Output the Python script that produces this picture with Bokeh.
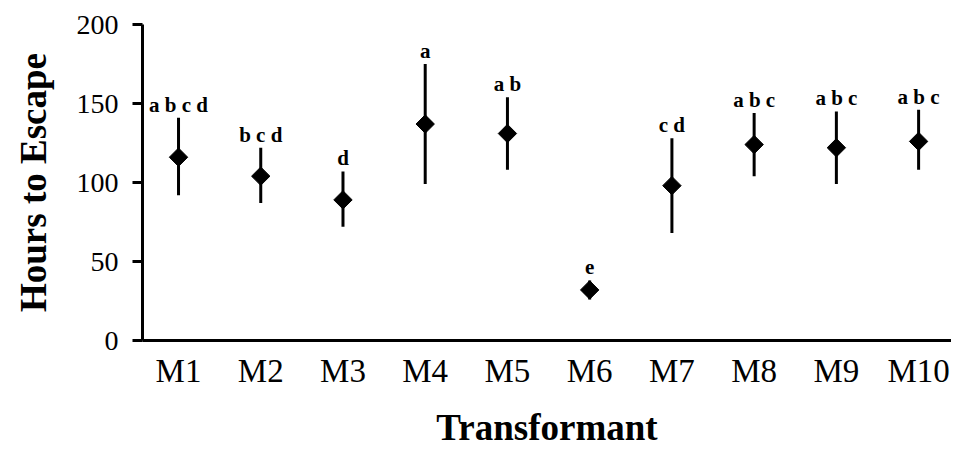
import math
from bokeh.plotting import figure
from bokeh.models import Range1d, FixedTicker, ColumnDataSource
from bokeh.embed import file_html
from bokeh.resources import INLINE
from bokeh.core.properties import value

# ---- data ----
transformants = ["M1", "M2", "M3", "M4", "M5", "M6", "M7", "M8", "M9", "M10"]
mean_hours = [116, 104, 89, 137, 131, 32, 98, 124, 122, 126]
upper_hours = [141, 122, 107, 175, 154, 38, 128, 144, 145, 146]
lower_hours = [92, 87, 72, 99, 108, 26, 68, 104, 99, 108]
group_letters = ["a b c d", "b c d", "d", "a", "a b", "e", "c d", "a b c", "a b c", "a b c"]
y_ticks = [0, 50, 100, 150, 200]

x_pos = list(range(1, len(transformants) + 1))
src = ColumnDataSource(dict(x=x_pos, mean=mean_hours, upper=upper_hours,
                            lower=lower_hours, letters=group_letters))

FONT = "Liberation Serif"

p = figure(width=951, height=450, output_backend="svg", toolbar_location=None,
           x_range=Range1d(0.562, 10.40), y_range=Range1d(0, 200),
           min_border_left=142, min_border_bottom=110, min_border_top=24,
           min_border_right=0)
p.outline_line_color = None
p.xgrid.visible = False
p.ygrid.visible = False
p.background_fill_color = "white"
p.border_fill_color = "white"

# error bars
p.segment(x0="x", y0="lower", x1="x", y1="upper", source=src,
          line_color="black", line_width=3)
# diamonds
p.scatter(x="x", y="mean", source=src, marker="square", size=13,
          angle=math.pi / 4, fill_color="black", line_color="black")
# group letters
p.text(x="x", y="upper", text="letters", source=src, text_align="center",
       text_baseline="alphabetic", y_offset=-13, text_color="black",
       text_font=value(FONT), text_font_style="bold", text_font_size="21px")

# y axis
ya = p.yaxis[0]
ya.ticker = FixedTicker(ticks=y_ticks)
ya.minor_tick_line_color = None
ya.major_tick_out = 10
ya.major_tick_in = 0
ya.major_tick_line_width = 3
ya.major_tick_line_color = "black"
ya.axis_line_width = 3
ya.axis_line_color = "black"
ya.major_label_standoff = 14
ya.major_label_text_font = FONT
ya.major_label_text_font_size = "28px"
ya.major_label_text_color = "black"
ya.axis_label = "Hours to Escape"
ya.axis_label_text_font = FONT
ya.axis_label_text_font_style = "bold"
ya.axis_label_text_font_size = "37px"
ya.axis_label_text_color = "black"
ya.axis_label_standoff = 20

# x axis
xa = p.xaxis[0]
xa.ticker = FixedTicker(ticks=x_pos)
xa.major_label_overrides = {x: t for x, t in zip(x_pos, transformants)}
xa.minor_tick_line_color = None
xa.major_tick_out = 0
xa.major_tick_in = 0
xa.axis_line_width = 3
xa.axis_line_color = "black"
xa.major_label_standoff = 12
xa.major_label_text_font = FONT
xa.major_label_text_font_size = "33px"
xa.major_label_text_color = "black"
xa.axis_label = "Transformant"
xa.axis_label_text_font = FONT
xa.axis_label_text_font_style = "bold"
xa.axis_label_text_font_size = "37px"
xa.axis_label_text_color = "black"
xa.axis_label_standoff = 15

open("out.html", "w").write(file_html(p, INLINE))
